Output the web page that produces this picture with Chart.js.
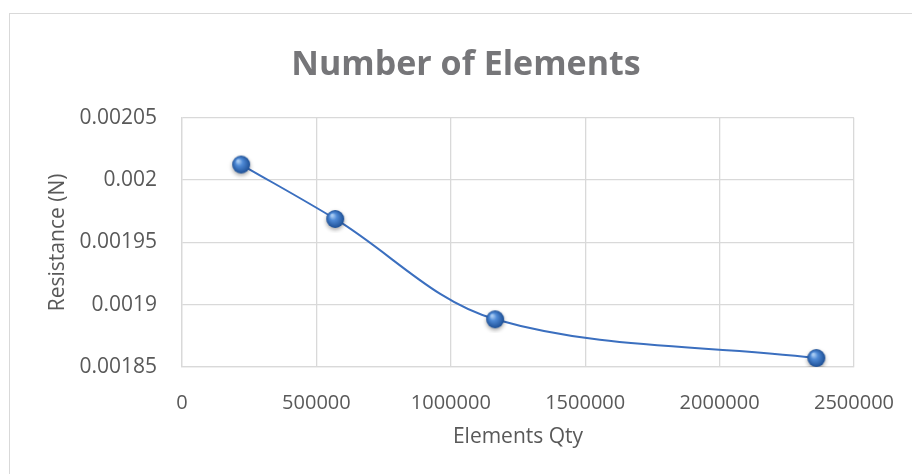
<!DOCTYPE html>
<html>
<head>
<meta charset="utf-8">
<script src="https://cdn.jsdelivr.net/npm/chart.js@4.4.1/dist/chart.umd.min.js"></script>
<style>
    html, body { margin: 0; padding: 0; background: #fff; overflow: hidden; }
    #frame { position: absolute; left: 9px; top: 13px; width: 1000px; height: 600px; border: 1px solid #d9d9d9; }
    #chart { position: absolute; left: 0; top: 0; }
</style>
</head>
<body>
<div id="frame"></div>
<canvas id="chart" width="912" height="474"></canvas>
<script>
const elementsQty = [220000, 570000, 1165000, 2360000];
const resistance = [0.0020125, 0.0019688, 0.0018883, 0.0018572];
const xTicks = [0, 500000, 1000000, 1500000, 2000000, 2500000];
const yTicks = [0.00185, 0.0019, 0.00195, 0.002, 0.00205];

const FONT = '"Open Sans", "DejaVu Sans", sans-serif';
const GRID = '#d9d9d9';

function makeBall(r) {
    const c = document.createElement('canvas');
    const s = Math.ceil(r * 2 + 10);
    c.width = s; c.height = s;
    const g = c.getContext('2d');
    const cx = s / 2, cy = s / 2;
    g.shadowColor = 'rgba(0,0,0,0.35)';
    g.shadowBlur = 4;
    g.shadowOffsetY = 2;
    const grad = g.createRadialGradient(cx - r * 0.35, cy - r * 0.4, r * 0.1, cx, cy, r);
    grad.addColorStop(0, '#a8cbf2');
    grad.addColorStop(0.35, '#4f8ad6');
    grad.addColorStop(1, '#1d4f95');
    g.fillStyle = grad;
    g.beginPath();
    g.arc(cx, cy, r, 0, Math.PI * 2);
    g.fill();
    return c;
}

const points = elementsQty.map((x, i) => ({ x: x, y: resistance[i] }));

new Chart(document.getElementById('chart').getContext('2d'), {
    type: 'scatter',
    data: {
        datasets: [{
            data: points,
            showLine: true,
            borderColor: '#3b6fbf',
            borderWidth: 2,
            tension: 0.35,
            pointStyle: makeBall(9),
            pointRadius: 9,
            pointHoverRadius: 9
        }]
    },
    options: {
        responsive: false,
        animation: false,
        layout: { padding: { left: 20, right: 0, top: 0, bottom: 0 } },
        plugins: {
            legend: { display: false },
            tooltip: { enabled: false },
            title: {
                display: true,
                text: 'Number of Elements',
                color: '#767679',
                font: { family: FONT, size: 34, weight: 'bold' },
                padding: { top: 45, bottom: 32 }
            }
        },
        scales: {
            x: {
                type: 'linear',
                min: 0,
                max: 2500000,
                afterFit: s => { s.height = 107; s.paddingLeft = 0; s.paddingRight = 0; },
                afterBuildTicks: s => { s.ticks = xTicks.map(v => ({ value: v })); },
                grid: { color: GRID, lineWidth: 1.3, drawTicks: false },
                border: { color: GRID, width: 1.3 },
                ticks: {
                    color: '#595959',
                    padding: 24,
                    maxRotation: 0,
                    font: { family: FONT, size: 20 },
                    callback: v => String(v)
                },
                title: {
                    display: true,
                    text: 'Elements Qty',
                    color: '#595959',
                    font: { family: FONT, size: 21 },
                    padding: { top: 0, bottom: 24 }
                }
            },
            y: {
                min: 0.00185,
                max: 0.00205,
                afterFit: s => { s.width = 162; },
                afterBuildTicks: s => { s.ticks = yTicks.map(v => ({ value: v })); },
                grid: { color: GRID, lineWidth: 1.3, drawTicks: false },
                border: { color: GRID, width: 1.3 },
                ticks: {
                    color: '#595959',
                    padding: 25,
                    font: { family: FONT, size: 21 },
                    callback: v => String(v)
                },
                title: {
                    display: true,
                    text: 'Resistance (N)',
                    color: '#595959',
                    font: { family: FONT, size: 21 },
                    padding: { top: 25, bottom: 0 }
                }
            },
            y2: {
                position: 'right',
                afterFit: s => { s.width = 58; },
                grid: { display: false, drawTicks: false },
                border: { display: false },
                ticks: { display: false }
            }
        }
    }
});
</script>
</body>
</html>
